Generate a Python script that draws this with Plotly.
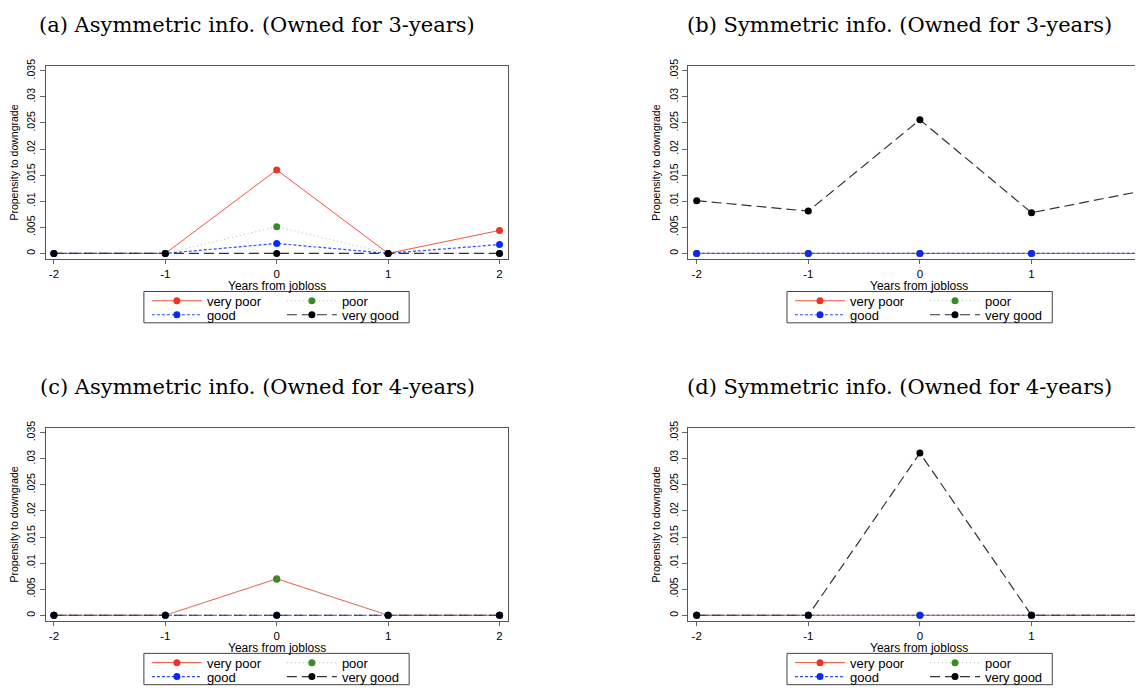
import plotly.graph_objects as go

# The page body has an 8px default margin, so figure pixels = screen pixels - 8
OFF = 8
W, H = 1143 - OFF, 692 - OFF

years = [-2, -1, 0, 1, 2]
categories = ["very poor", "poor", "good", "very good"]
panel_titles = [
    "(a) Asymmetric info. (Owned for 3-years)",
    "(b) Symmetric info. (Owned for 3-years)",
    "(c) Asymmetric info. (Owned for 4-years)",
    "(d) Symmetric info. (Owned for 4-years)",
]
x_title = "Years from jobloss"
y_title = "Propensity to downgrade"

# Panel (a): asymmetric info, owned 3 years
a_very_poor = [0.0, 0.0, 0.0160, 0.0, 0.0044]
a_poor = [0.0, 0.0, 0.0051, 0.0, 0.0]
a_good = [0.0, 0.0, 0.0019, 0.0, 0.0017]
a_very_good = [0.0, 0.0, 0.0, 0.0, 0.0]
# Panel (b): symmetric info, owned 3 years
b_very_poor = [0.0, 0.0, 0.0, 0.0, 0.0]
b_poor = [0.0, 0.0, 0.0, 0.0, 0.0]
b_good = [0.0, 0.0, 0.0, 0.0, 0.0]
b_very_good = [0.0101, 0.0081, 0.0256, 0.0078, 0.0120]
# Panel (c): asymmetric info, owned 4 years
c_very_poor = [0.0, 0.0, 0.0070, 0.0, 0.0]
c_poor = [0.0, 0.0, 0.0069, 0.0, 0.0]
c_good = [0.0, 0.0, 0.0, 0.0, 0.0]
c_very_good = [0.0, 0.0, 0.0, 0.0, 0.0]
# Panel (d): symmetric info, owned 4 years
d_very_poor = [0.0, 0.0, 0.0, 0.0, 0.0]
d_poor = [0.0, 0.0, 0.0, 0.0, 0.0]
d_good = [0.0, 0.0, 0.0, 0.0, 0.0]
d_very_good = [0.0, 0.0, 0.0311, 0.0, 0.0]

y_tick_vals = [0, 0.005, 0.01, 0.015, 0.02, 0.025, 0.03, 0.035]
y_tick_text = ["0", ".005", ".01", ".015", ".02", ".025", ".03", ".035"]
x_tick_vals = [-2, -1, 0, 1, 2]
x_tick_text = ["-2", "-1", "0", "1", "2"]

panels = [
    [a_very_poor, a_poor, a_good, a_very_good],
    [b_very_poor, b_poor, b_good, b_very_good],
    [c_very_poor, c_poor, c_good, c_very_good],
    [d_very_poor, d_poor, d_good, d_very_good],
]

styles = {
    "very poor": dict(line=dict(color="#f2553f", width=1, dash="solid"), marker="#ee3224"),
    "poor": dict(line=dict(color="#b4ccac", width=1.2, dash="1px,3px"), marker="#3a8a2a"),
    "good": dict(line=dict(color="#2c4cff", width=1.2, dash="3px,2px"), marker="#0a28ff"),
    "very good": dict(line=dict(color="#333333", width=1.2, dash="10px,5px"), marker="#000000"),
}

def px(x):
    return (x - OFF) / W

def py(y):
    return 1 - (y - OFF) / H

# screen-pixel geometry of plot frames
cols = [(45.7, 508.0), (689.0, 1143.0)]
rows = [(60.0, 257.7), (430.0, 627.7)]
x_ranges = [[-2.074, 2.072], [-2.0744, 1.99]]
y_range = [-0.00112, 0.03594]

sans = "Liberation Sans, Arial, sans-serif"
serif = "DejaVu Serif, serif"

fig = go.Figure()
layout = dict(
    width=W, height=H, margin=dict(l=0, r=0, t=0, b=0),
    paper_bgcolor="white", plot_bgcolor="white",
    font=dict(family=sans, size=11, color="black"),
    annotations=[], shapes=[],
)

title_centers = [(257.5, 18.5), (900.0, 18.5), (257.5, 388.5), (900.0, 388.5)]
xtitle_centers = [(277.0, 285.0), (920.3, 285.0), (277.0, 655.0), (920.3, 655.0)]
legend_left = [144.0, 787.7]
legend_width = 265.5
legend_tops = [290.7, 660.7]

for p in range(4):
    r, c = divmod(p, 2)
    suffix = "" if p == 0 else str(p + 1)
    xa, ya = "x" + suffix, "y" + suffix
    xl, xr = cols[c]
    yt, yb = rows[r]
    layout["xaxis" + suffix] = dict(
        domain=[px(xl), min(1.0, px(xr))], range=x_ranges[c], anchor=ya,
        tickmode="array", tickvals=x_tick_vals, ticktext=x_tick_text,
        ticks="outside", ticklen=4, tickcolor="#666666", tickwidth=1,
        showline=True, linecolor="#555555", linewidth=1, mirror=True,
        showgrid=False, zeroline=False,
        tickfont=dict(family=sans, size=11.5, color="black"),
        fixedrange=True,
    )
    layout["yaxis" + suffix] = dict(
        domain=[py(yb), py(yt)], range=y_range, anchor=xa,
        tickmode="array", tickvals=y_tick_vals, ticktext=y_tick_text,
        tickangle=-90,
        ticks="outside", ticklen=5, tickcolor="#666666", tickwidth=1,
        showline=True, linecolor="#555555", linewidth=1, mirror=True,
        showgrid=False, zeroline=False,
        tickfont=dict(family=sans, size=10.5, color="black"),
        title=dict(text=y_title, font=dict(family=sans, size=10.5, color="black"), standoff=5),
        fixedrange=True,
    )
    tx, ty = title_centers[p]
    layout["annotations"].append(dict(
        text=panel_titles[p], x=px(tx), y=py(ty), xref="paper", yref="paper",
        xanchor="center", yanchor="middle", showarrow=False,
        font=dict(family=serif, size=21, color="black"),
    ))
    ax, ay = xtitle_centers[p]
    layout["annotations"].append(dict(
        text=x_title, x=px(ax), y=py(ay), xref="paper", yref="paper",
        xanchor="center", yanchor="middle", showarrow=False, borderpad=0,
        font=dict(family=sans, size=12, color="black"),
    ))
    # legend frame
    lx0 = legend_left[c]
    ly0 = legend_tops[r]
    layout["shapes"].append(dict(
        type="rect", xref="paper", yref="paper",
        x0=px(lx0), x1=px(lx0 + legend_width), y0=py(ly0 + 32.0), y1=py(ly0),
        line=dict(color="#444444", width=1), fillcolor="rgba(0,0,0,0)",
    ))
    row_centers = [ly0 + 9.5, ly0 + 23.8]
    for k in range(2):
        lname = "legend" + ("" if (2 * p + k) == 0 else str(2 * p + k + 1))
        layout[lname] = dict(
            orientation="h", x=px(lx0 + 3), y=py(row_centers[k]),
            xanchor="left", yanchor="middle",
            bgcolor="rgba(0,0,0,0)", borderwidth=0,
            itemwidth=50, entrywidth=70, entrywidthmode="pixels",
            font=dict(family=sans, size=13, color="black"),
            itemclick=False, itemdoubleclick=False,
        )
    for i, cat in enumerate(categories):
        st = styles[cat]
        k = 0 if i in (0, 1) else 1
        lname = "legend" + ("" if (2 * p + k) == 0 else str(2 * p + k + 1))
        fig.add_trace(go.Scatter(
            x=years, y=panels[p][i], mode="lines+markers", name=cat,
            line=st["line"], marker=dict(color=st["marker"], size=7),
            xaxis=xa, yaxis=ya, legend=lname, showlegend=True,
        ))

fig.update_layout(**layout)
fig.write_html("out.html")
